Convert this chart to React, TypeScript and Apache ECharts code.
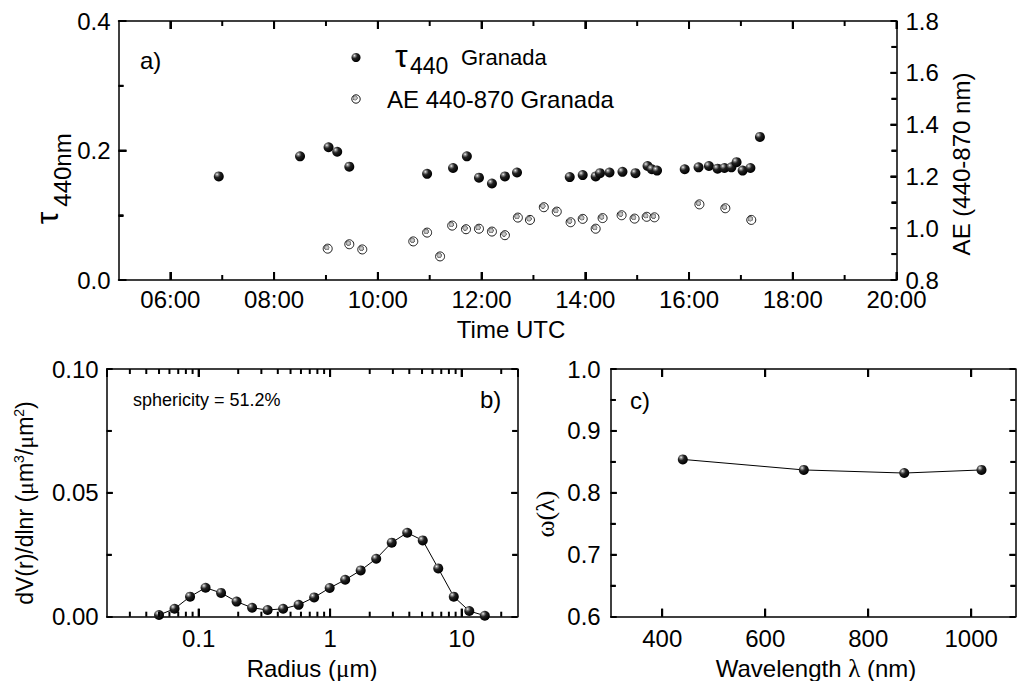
import React, { useEffect, useRef } from 'react';
import * as echarts from 'echarts';

// ---------- data ----------
const tauTimes = ['06:56', '08:30', '09:03', '09:13', '09:27', '10:57', '11:27', '11:43', '11:57', '12:12', '12:27', '12:41', '13:42', '13:57', '14:12', '14:17', '14:28', '14:43', '14:58', '15:12', '15:17', '15:23', '15:55', '16:11', '16:23', '16:33', '16:41', '16:49', '16:55', '17:02', '17:11', '17:22'];
const tauValues = [0.160, 0.191, 0.205, 0.198, 0.175, 0.164, 0.173, 0.191, 0.158, 0.149, 0.160, 0.166, 0.159, 0.162, 0.160, 0.165, 0.166, 0.167, 0.165, 0.176, 0.171, 0.169, 0.171, 0.174, 0.176, 0.172, 0.173, 0.174, 0.182, 0.169, 0.173, 0.221];
const aeTimes = ['09:02', '09:27', '09:42', '10:41', '10:57', '11:12', '11:26', '11:42', '11:57', '12:12', '12:27', '12:42', '12:56', '13:12', '13:27', '13:43', '13:57', '14:12', '14:20', '14:42', '14:57', '15:11', '15:20', '16:12', '16:42', '17:12'];
const aeValues = [0.921, 0.938, 0.918, 0.949, 0.983, 0.891, 1.010, 0.996, 0.998, 0.987, 0.973, 1.041, 1.032, 1.081, 1.064, 1.023, 1.036, 0.998, 1.039, 1.050, 1.037, 1.044, 1.042, 1.092, 1.077, 1.032];

const radii = [0.05, 0.065604, 0.086077, 0.112939, 0.148184, 0.194429, 0.255105, 0.334716, 0.439173, 0.576227, 0.756052, 0.991996, 1.301571, 1.707757, 2.240702, 2.939966, 3.857452, 5.06126, 6.640745, 8.713145, 11.432287, 15.0];
const psdValues = [0.0007, 0.0032, 0.0081, 0.0117, 0.0096, 0.0061, 0.0036, 0.0027, 0.0032, 0.0048, 0.0078, 0.0116, 0.0149, 0.0187, 0.0234, 0.0299, 0.0339, 0.0308, 0.0195, 0.0081, 0.0023, 0.0004];

const wavelengths = [440, 675, 870, 1020];
const ssaValues = [0.854, 0.837, 0.832, 0.837];

// ---------- axis ranges and ticks ----------
const TIME_MIN = 5, TIME_MAX = 20;
const TAU_MIN = 0, TAU_MAX = 0.4;
const AE_MIN = 0.8, AE_MAX = 1.8;
const RADIUS_MIN = 0.02, RADIUS_MAX = 26.5;
const PSD_MIN = 0, PSD_MAX = 0.1;
const WL_MIN = 300, WL_MAX = 1086;
const SSA_MIN = 0.6, SSA_MAX = 1.0;

const timeMajorTicks = [6, 8, 10, 12, 14, 16, 18, 20];
const timeMinorTicks = [7, 9, 11, 13, 15, 17, 19];
const tauMajorTicks = [0.2];
const tauMinorTicks = [0.1, 0.3];
const aeMajorTicks = [1.0, 1.2, 1.4, 1.6];
const aeMinorTicks = [0.9, 1.1, 1.3, 1.5, 1.7];
const radiusMajorTicks = [0.1, 1, 10];
const radiusMinorTicks = [0.03, 0.04, 0.05, 0.06, 0.07, 0.08, 0.09, 0.2, 0.3, 0.4, 0.5, 0.6, 0.7, 0.8, 0.9, 2, 3, 4, 5, 6, 7, 8, 9, 20];
const psdMajorTicks = [0.05];
const psdMinorTicks = [0.025, 0.075];
const wavelengthTicks = [400, 600, 800, 1000];
const ssaMajorTicks = [0.7, 0.8, 0.9];
const ssaMinorTicks = [0.65, 0.75, 0.85, 0.95];

const SANS = "'Liberation Sans', Arial, sans-serif";
const SERIF = "'Liberation Serif', 'Times New Roman', serif";
const MAJOR = 8, MID = 6, MINOR = 5;

function toHours(s: string) {
  const [h, m] = s.split(':').map(Number);
  return h + m / 60;
}

const sphere = () =>
  new echarts.graphic.RadialGradient(0.33, 0.3, 0.7, [
    { offset: 0, color: '#f4f4f4' },
    { offset: 0.18, color: '#8a8a8a' },
    { offset: 0.45, color: '#222' },
    { offset: 1, color: '#000' },
  ]);
const openFill = () =>
  new echarts.graphic.RadialGradient(0.4, 0.38, 0.34, [
    { offset: 0, color: '#d8d8d8' },
    { offset: 0.5, color: '#b0b0b0' },
    { offset: 0.8, color: '#6a6a6a' },
    { offset: 0.95, color: '#ffffff' },
    { offset: 1, color: '#ffffff' },
  ]);

const lineStyleBlack = { color: '#000', width: 1.5 };
const tickLine = { color: '#000', width: 2 };
const labelStyle = (extra: any = {}) => ({ show: true, color: '#000', fontSize: 24, fontFamily: SANS, lineHeight: 18, ...extra });

function ax(extra: any) {
  return {
    type: 'value',
    splitLine: { show: false },
    axisLine: { show: true, onZero: false, lineStyle: lineStyleBlack },
    axisTick: { show: false },
    minorTick: { show: false },
    axisLabel: { show: false },
    ...extra,
  };
}
const majorTick = (len: number, customValues?: number[]) => ({
  show: true, inside: true, length: len, lineStyle: tickLine, ...(customValues ? { customValues } : {}),
});
const minorTickOpt = { show: true, splitNumber: 2, length: MINOR, lineStyle: tickLine };

// tick specs: [xAxisIndex, yAxisIndex, x, y, dx(px), dy(px)], turned into pixels by the chart's own axes
function xTickSpecs(xi: number, yi: number, vals: number[], yLo: number, yHi: number, len: number) {
  return vals.flatMap((v) => [[xi, yi, v, yLo, 0, -len], [xi, yi, v, yHi, 0, len]]);
}
function yTickSpecs(xi: number, yi: number, vals: number[], x: number, dir: number, len: number) {
  return vals.map((v) => [xi, yi, x, v, dir * len, 0]);
}
const tickSpecs: number[][] = [
  ...xTickSpecs(0, 0, timeMajorTicks, TAU_MIN, TAU_MAX, MAJOR),
  ...xTickSpecs(0, 0, timeMinorTicks, TAU_MIN, TAU_MAX, MINOR),
  ...yTickSpecs(0, 0, tauMajorTicks, TIME_MIN, 1, MAJOR),
  ...yTickSpecs(0, 0, tauMinorTicks, TIME_MIN, 1, MINOR),
  ...yTickSpecs(0, 1, aeMajorTicks, TIME_MAX, -1, MID),
  ...yTickSpecs(0, 1, aeMinorTicks, TIME_MAX, -1, MINOR),
  ...xTickSpecs(2, 2, radiusMajorTicks, PSD_MIN, PSD_MAX, MAJOR),
  ...xTickSpecs(2, 2, radiusMinorTicks, PSD_MIN, PSD_MAX, MINOR),
  ...yTickSpecs(2, 2, psdMajorTicks, RADIUS_MIN, 1, MID),
  ...yTickSpecs(2, 2, psdMinorTicks, RADIUS_MIN, 1, MINOR),
  ...yTickSpecs(2, 2, psdMajorTicks, RADIUS_MAX, -1, MID),
  ...yTickSpecs(2, 2, psdMinorTicks, RADIUS_MAX, -1, MINOR),
  ...xTickSpecs(4, 4, wavelengthTicks, SSA_MIN, SSA_MAX, MAJOR),
  ...yTickSpecs(4, 4, ssaMajorTicks, WL_MIN, 1, MID),
  ...yTickSpecs(4, 4, ssaMinorTicks, WL_MIN, 1, MINOR),
  ...yTickSpecs(4, 4, ssaMajorTicks, WL_MAX, -1, MID),
  ...yTickSpecs(4, 4, ssaMinorTicks, WL_MAX, -1, MINOR),
];

function txt(id: string, text: string, x: number, y: number, fontSize: number, opts: any = {}) {
  const { rotation, align, fontFamily, rich } = opts;
  return {
    id,
    type: 'text',
    x,
    y,
    rotation: rotation || 0,
    silent: true,
    style: {
      text,
      fill: '#000',
      fontSize,
      fontFamily: fontFamily || SANS,
      align: align || 'center',
      verticalAlign: 'middle',
      textAlign: align || 'center',
      textVerticalAlign: 'middle',
      rich,
    },
  };
}

function textElements(): any[] {
  const R = Math.PI / 2;
  return [
    txt('ta', 'a)', 140, 60, 24, { align: 'left' }),
    txt('tb', 'b)', 480, 399, 24, { align: 'left' }),
    txt('tc', 'c)', 630, 400, 24, { align: 'left' }),
    txt('tsph', 'sphericity = 51.2%', 133, 400, 18, { align: 'left' }),
    { id: 'lg1', type: 'circle', silent: true, shape: { cx: 356, cy: 57.5, r: 4.5 }, style: { fill: sphere() } },
    txt('lg1a', 'τ', 395, 56, 32, { align: 'left' }),
    txt('lg1b', '440', 410, 66, 23, { align: 'left' }),
    txt('lg1c', 'Granada', 461, 57, 22, { align: 'left' }),
    { id: 'lg2', type: 'circle', silent: true, shape: { cx: 356, cy: 99, r: 4.2 }, style: { fill: openFill(), stroke: '#000', lineWidth: 0.9 } },
    txt('lg2a', 'AE 440-870 Granada', 387, 99, 24, { align: 'left' }),
    txt('ya1', 'τ', 46.5, 218, 32, { rotation: R }),
    txt('ya2', '440nm', 62.5, 170, 24, { rotation: R }),
    txt('ya3', 'AE (440-870 nm)', 961, 164, 24, { rotation: R }),
    txt('xa', 'Time UTC', 511, 329, 24),
    txt('yb', '{n|dV(r)/dlnr (}{m|μ}{n|m}{s|3}{n|/}{m|μ}{n|m}{s|2}{n|)}', 25, 503, 23, {
      rotation: R,
      rich: {
        n: { fontSize: 23, fontFamily: SANS, lineHeight: 26, verticalAlign: 'middle', fill: '#000' },
        m: { fontSize: 24, fontFamily: SERIF, lineHeight: 26, verticalAlign: 'middle', fill: '#000' },
        s: { fontSize: 14, fontFamily: SANS, lineHeight: 14, verticalAlign: 'top', fill: '#000' },
      },
    }),
    txt('xb', '{n|Radius (}{m|μ}{n|m)}', 312, 668, 24, {
      rich: {
        n: { fontSize: 24, fontFamily: SANS, fill: '#000' },
        m: { fontSize: 25, fontFamily: SERIF, fill: '#000' },
      },
    }),
    txt('yc', 'ω(λ)', 545, 514, 26, { rotation: R, fontFamily: SERIF }),
    txt('xc', '{n|Wavelength }{m|λ}{n| (nm)}', 816, 668, 24, {
      rich: {
        n: { fontSize: 24, fontFamily: SANS, fill: '#000' },
        m: { fontSize: 25, fontFamily: SERIF, fill: '#000' },
      },
    }),
  ];
}

function buildOption(): any {
  return {
    animation: false,
    backgroundColor: '#fff',
    grid: [
      { left: 118.5, top: 21, width: 778, height: 259, outerBoundsMode: 'none', containLabel: false },
      { left: 106.7, top: 369, width: 410.6, height: 247.7, outerBoundsMode: 'none', containLabel: false },
      { left: 610.7, top: 369, width: 404.8, height: 247.7, outerBoundsMode: 'none', containLabel: false },
    ],
    xAxis: [
      ax({
        gridIndex: 0, position: 'bottom', min: TIME_MIN, max: TIME_MAX,
        axisTick: majorTick(MAJOR, timeMajorTicks),
        axisLabel: labelStyle({
          customValues: timeMajorTicks, margin: 10,
          formatter: (v: number) => `${String(Math.round(v)).padStart(2, '0')}:00`,
        }),
      }),
      ax({ gridIndex: 0, position: 'top', min: TIME_MIN, max: TIME_MAX, axisTick: majorTick(MAJOR, timeMajorTicks) }),
      ax({
        type: 'log', logBase: 10, gridIndex: 1, position: 'bottom', min: RADIUS_MIN, max: RADIUS_MAX,
        axisTick: majorTick(MAJOR),
        axisLabel: labelStyle({
          margin: 13, showMinLabel: false, showMaxLabel: false,
          formatter: (v: number) => {
            const lg = Math.log10(v);
            return Math.abs(lg - Math.round(lg)) < 1e-6 ? String(+v.toPrecision(3)) : '';
          },
        }),
      }),
      ax({ type: 'log', logBase: 10, gridIndex: 1, position: 'top', min: RADIUS_MIN, max: RADIUS_MAX, axisTick: majorTick(MAJOR) }),
      ax({
        gridIndex: 2, position: 'bottom', min: WL_MIN, max: WL_MAX,
        axisTick: majorTick(MAJOR, wavelengthTicks),
        axisLabel: labelStyle({ customValues: wavelengthTicks, margin: 13, formatter: (v: number) => String(Math.round(v)) }),
      }),
      ax({ gridIndex: 2, position: 'top', min: WL_MIN, max: WL_MAX, axisTick: majorTick(MAJOR, wavelengthTicks) }),
    ],
    yAxis: [
      ax({
        gridIndex: 0, position: 'left', min: TAU_MIN, max: TAU_MAX, interval: 0.2,
        axisTick: majorTick(MAJOR), minorTick: minorTickOpt,
        axisLabel: labelStyle({ margin: 8, formatter: (v: number) => v.toFixed(1) }),
      }),
      ax({
        gridIndex: 0, position: 'right', min: AE_MIN, max: AE_MAX, interval: 0.2,
        axisTick: majorTick(MID), minorTick: minorTickOpt,
        axisLabel: labelStyle({ margin: 9, formatter: (v: number) => v.toFixed(1) }),
      }),
      ax({
        gridIndex: 1, position: 'left', min: PSD_MIN, max: PSD_MAX, interval: 0.05,
        axisTick: majorTick(MID), minorTick: minorTickOpt,
        axisLabel: labelStyle({ margin: 8, formatter: (v: number) => v.toFixed(2) }),
      }),
      ax({ gridIndex: 1, position: 'right', min: PSD_MIN, max: PSD_MAX, interval: 0.05, axisTick: majorTick(MID), minorTick: minorTickOpt }),
      ax({
        gridIndex: 2, position: 'left', min: SSA_MIN, max: SSA_MAX, interval: 0.1,
        axisTick: majorTick(MID), minorTick: minorTickOpt,
        axisLabel: labelStyle({ margin: 10, formatter: (v: number) => v.toFixed(1) }),
      }),
      ax({ gridIndex: 2, position: 'right', min: SSA_MIN, max: SSA_MAX, interval: 0.1, axisTick: majorTick(MID), minorTick: minorTickOpt }),
    ],
    series: [
      {
        type: 'scatter', name: 'τ440 Granada', xAxisIndex: 0, yAxisIndex: 0,
        data: tauTimes.map((t, i) => [toHours(t), tauValues[i]]),
        symbol: 'circle', symbolSize: 10, itemStyle: { color: sphere(), opacity: 1 }, z: 4,
      },
      {
        type: 'scatter', name: 'AE 440-870 Granada', xAxisIndex: 0, yAxisIndex: 1,
        data: aeTimes.map((t, i) => [toHours(t), aeValues[i]]),
        symbol: 'circle', symbolSize: 9,
        itemStyle: { color: openFill(), borderColor: '#000', borderWidth: 0.9, opacity: 1 }, z: 3,
      },
      {
        type: 'line', name: 'dV/dlnr', xAxisIndex: 2, yAxisIndex: 2,
        data: radii.map((r, i) => [r, psdValues[i]]),
        symbol: 'circle', symbolSize: 10, showSymbol: true,
        lineStyle: { color: '#000', width: 1 }, itemStyle: { color: sphere() },
      },
      {
        type: 'line', name: 'SSA', xAxisIndex: 4, yAxisIndex: 4,
        data: wavelengths.map((w, i) => [w, ssaValues[i]]),
        symbol: 'circle', symbolSize: 10, showSymbol: true,
        lineStyle: { color: '#000', width: 1 }, itemStyle: { color: sphere() },
      },
    ],
    graphic: { elements: textElements() },
  };
}

export default function App() {
  const ref = useRef<HTMLDivElement>(null);
  useEffect(() => {
    if (!ref.current) return;
    const chart = echarts.init(ref.current, null, { renderer: 'svg' });
    chart.setOption(buildOption());
    // extra tick marks (incl. minor ones) placed through the axes' own scales
    const ticks: any[] = [];
    tickSpecs.forEach(([xi, yi, x, y, dx, dy], i) => {
      const p: any = chart.convertToPixel({ xAxisIndex: xi, yAxisIndex: yi } as any, [x, y]);
      if (!p || !isFinite(p[0]) || !isFinite(p[1])) return;
      ticks.push({
        id: 'tick' + i,
        type: 'line',
        silent: true,
        z: 100,
        shape: { x1: p[0], y1: p[1], x2: p[0] + dx, y2: p[1] + dy },
        style: { stroke: '#000', lineWidth: 2 },
      });
    });
    chart.setOption({ graphic: { elements: [...textElements(), ...ticks] } });
    return () => chart.dispose();
  }, []);
  return (
    <div
      ref={ref}
      style={{ position: 'absolute', left: 0, top: 0, width: 1017, height: 681, background: '#fff' }}
    />
  );
}
